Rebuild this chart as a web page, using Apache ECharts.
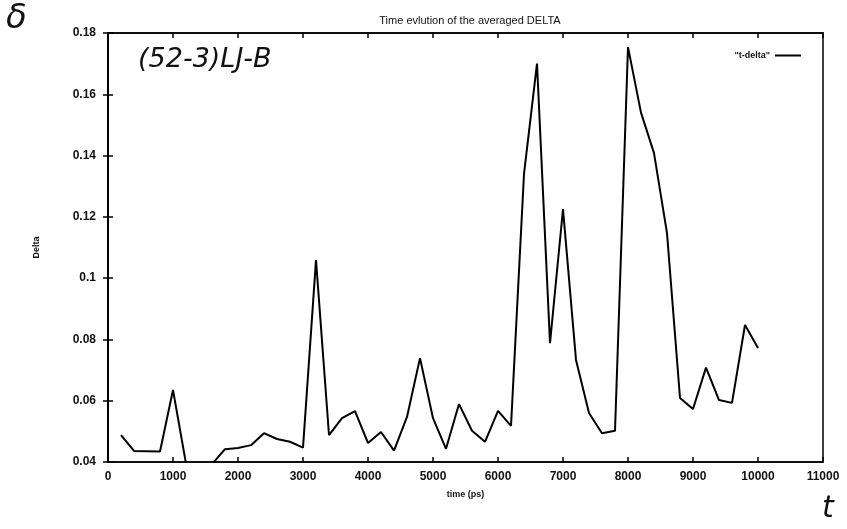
<!DOCTYPE html>
<html>
<head>
<meta charset="utf-8">
<script src="https://cdn.jsdelivr.net/npm/echarts@6/dist/echarts.min.js"></script>
<style>
	html, body { margin: 0; padding: 0; background: #fff; }
	#chart { width: 847px; height: 529px; }
</style>
</head>
<body>
<div id="chart"></div>
<script>
	// time in ps, averaged delta
	var times = [200, 400, 600, 800, 1000, 1200, 1400, 1600, 1800, 2000,
		2200, 2400, 2600, 2800, 3000, 3200, 3400, 3600, 3800, 4000,
		4200, 4400, 4600, 4800, 5000, 5200, 5400, 5600, 5800, 6000,
		6200, 6400, 6600, 6800, 7000, 7200, 7400, 7600, 7800, 8000,
		8200, 8400, 8600, 8800, 9000, 9200, 9400, 9600, 9800, 10000];
	var delta = [0.0488, 0.0436, 0.0435, 0.0434, 0.0635, 0.0395, 0.036, 0.0393, 0.0442, 0.0446,
		0.0455, 0.0494, 0.0475, 0.0466, 0.0447, 0.1059, 0.0488, 0.0543, 0.0566, 0.0462,
		0.0498, 0.0437, 0.0547, 0.0739, 0.0543, 0.0443, 0.0589, 0.0502, 0.0466, 0.0567,
		0.0518, 0.134, 0.170, 0.0788, 0.1225, 0.0733, 0.056, 0.0494, 0.0502, 0.1754,
		0.154, 0.1408, 0.1147, 0.0609, 0.0573, 0.0708, 0.0602, 0.0593, 0.0847, 0.0772];

	var notes = ['δ', '(52-3)LJ-B', 't'];

	var pts = times.map(function(t, i){ return [t, delta[i]]; });

	var tickFont = { fontFamily: 'Liberation Sans', fontSize: 12, fontWeight: 'bold', color: '#111' };

	var chart = echarts.init(document.getElementById('chart'));
	chart.setOption({
		backgroundColor: '#fff',
		animation: false,
		title: {
			text: 'Time evlution of the averaged DELTA',
			left: 465, top: 10, textAlign: 'center',
			textStyle: { fontFamily: 'Liberation Sans', fontSize: 11, fontWeight: 'normal', color: '#111' }
		},
		legend: {
			right: 41, top: 46,
			align: 'right',
			icon: 'rect', itemWidth: 26, itemHeight: 2, itemGap: 6,
			textStyle: { fontFamily: 'Liberation Sans', fontSize: 9, fontWeight: 'bold', color: '#111' },
			data: ['"t-delta"']
		},
		grid: {
			left: 108, right: 24, top: 33, bottom: 67,
			show: true, borderColor: '#000', borderWidth: 1.5
		},
		xAxis: [{
			type: 'value', min: 0, max: 11000, interval: 1000,
			name: 'time (ps)', nameLocation: 'middle', nameGap: 28,
			nameTextStyle: { fontFamily: 'Liberation Sans', fontSize: 9, fontWeight: 'bold', color: '#111' },
			axisLine: { lineStyle: { color: '#000', width: 1.5 } },
			axisTick: { inside: true, length: 5, lineStyle: { color: '#000', width: 1.5 } },
			axisLabel: Object.assign({ margin: 9, formatter: function(v){ return String(v); } }, tickFont),
			splitLine: { show: false }
		}, {
			type: 'value', min: 0, max: 11000, interval: 1000, position: 'top',
			axisLine: { lineStyle: { color: '#000', width: 1.5 } },
			axisTick: { inside: true, length: 5, lineStyle: { color: '#000', width: 1.5 } },
			axisLabel: { show: false },
			splitLine: { show: false }
		}],
		yAxis: [{
			type: 'value', min: 0.04, max: 0.18, interval: 0.02,
			name: 'Delta', nameLocation: 'middle', nameGap: 67, nameRotate: 90,
			nameTextStyle: { fontFamily: 'Liberation Sans', fontSize: 9, fontWeight: 'bold', color: '#111' },
			axisLine: { lineStyle: { color: '#000', width: 1.5 } },
			axisTick: { inside: true, length: 5, lineStyle: { color: '#000', width: 1.5 } },
			axisLabel: Object.assign({ margin: 12 }, tickFont),
			splitLine: { show: false }
		}, {
			type: 'value', min: 0.04, max: 0.18, interval: 0.02, position: 'right',
			axisLine: { lineStyle: { color: '#000', width: 1.5 } },
			axisTick: { inside: true, length: 5, lineStyle: { color: '#000', width: 1.5 } },
			axisLabel: { show: false },
			splitLine: { show: false }
		}],
		series: [{
			name: '"t-delta"',
			type: 'line',
			data: pts,
			symbol: 'none',
			clip: true,
			color: '#000',
			lineStyle: { color: '#000', width: 2 }
		}],
		graphic: [
			{ type: 'text', left: 6, top: 2, style: { text: notes[0], font: 'italic 34px "DejaVu Sans"', fill: '#111' } },
			{ type: 'text', left: 138, top: 46, style: { text: notes[1], font: 'italic 27px "DejaVu Sans"', fill: '#111' } },
			{ type: 'text', left: 822, top: 494, style: { text: notes[2], font: 'italic 30px "DejaVu Sans"', fill: '#111' } }
		]
	});
</script>
</body>
</html>
